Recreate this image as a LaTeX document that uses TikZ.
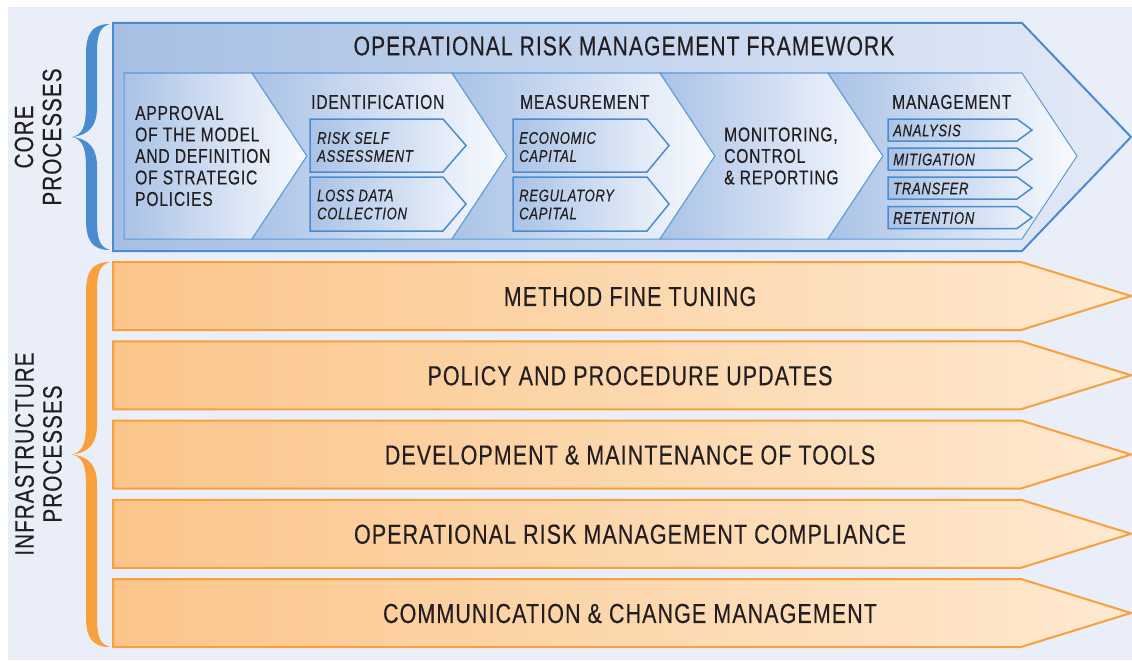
\documentclass[tikz,border=0pt]{standalone}
\usepackage{fontspec}
\setmainfont{Liberation Sans}[FakeStretch=0.78,LetterSpace=4,FakeBold=0.3]
\usepackage{tikz}
\usepackage{xcolor}

\definecolor{bgcol}{HTML}{E9EEF8}
\definecolor{coreline}{HTML}{4A8CCF}
\definecolor{coreL}{HTML}{A6BFE4}
\definecolor{coreR}{HTML}{E3EAF7}
\definecolor{chevline}{HTML}{5E9BD6}
\definecolor{chevL}{HTML}{A9C2E6}
\definecolor{chevR}{HTML}{F8FAFE}
\definecolor{subR}{HTML}{EEF3FB}
\definecolor{infraline}{HTML}{F7A03D}
\definecolor{infraL}{HTML}{FBC58A}
\definecolor{infraR}{HTML}{FEE9D0}
\definecolor{txtcol}{HTML}{231F20}

% curly brace in front of a group: top, bottom, colour
\newcommand{\groupbrace}[3]{%
  \pgfmathsetmacro{\bm}{(#1+#2)/2}
  \fill[#3] (110,#1) .. controls (92,#1) and (86,#1+10) .. (86,#1+30)
    -- (86,\bm-30) .. controls (86,\bm-10) and (82,\bm-2) .. (72,\bm)
    .. controls (82,\bm+2) and (86,\bm+10) .. (86,\bm+30)
    -- (86,#2-30) .. controls (86,#2-10) and (92,#2) .. (110,#2)
    .. controls (99,#2-3) and (97,#2-12) .. (97,#2-30)
    -- (97,\bm+30) .. controls (97,\bm+12) and (90,\bm+2) .. (72,\bm)
    .. controls (90,\bm-2) and (97,\bm-12) .. (97,\bm-30)
    -- (97,#1+30) .. controls (97,#1+12) and (99,#1+3) .. (110,#1) -- cycle;}

\tikzset{
  txt/.style={text=txtcol, inner sep=0pt},
  head/.style={txt, font=\fontsize{20}{21.5}\selectfont, align=left, anchor=west},
  sub/.style={txt, font=\fontsize{16.8}{18}\selectfont\itshape, align=left, anchor=west},
  big/.style={txt, font=\fontsize{27.5}{30}\selectfont},
  side/.style={txt, font=\fontsize{26.5}{28}\selectfont, rotate=90, align=center},
  chev/.style={draw=chevline, line width=1pt, left color=chevL, right color=chevR},
  subbox/.style={draw=coreline, line width=1.5pt, left color=chevL, right color=subR},
  infra/.style={draw=infraline, line width=2pt, left color=infraL, right color=infraR}
}

\begin{document}
\begin{tikzpicture}[x=1pt,y=-1pt]
  \useasboundingbox (0,0) rectangle (1132,661);
  \fill[bgcol] (8,7) rectangle (1132,660);

  % core processes
  \draw[draw=coreline, line width=2pt, left color=coreL, right color=coreR]
    (113,23) -- (1022,23) -- (1131,137) -- (1022,251) -- (113,251) -- cycle;
  \node[big, font=\fontsize{27}{30}\selectfont] (title) at (624,46) {OPERATIONAL RISK MANAGEMENT FRAMEWORK};

  \draw[chev] (124,73) -- (252,73) -- (307,156) -- (252,239) -- (124,239) -- cycle;
  \draw[chev] (252,73) -- (452,73) -- (507,156) -- (452,239) -- (252,239) -- (307,156) -- cycle;
  \draw[chev] (452,73) -- (660,73) -- (715,156) -- (660,239) -- (452,239) -- (507,156) -- cycle;
  \draw[chev] (660,73) -- (828,73) -- (883,156) -- (828,239) -- (660,239) -- (715,156) -- cycle;
  \draw[chev] (828,73) -- (1022,73) -- (1077,156) -- (1022,239) -- (828,239) -- (883,156) -- cycle;

  \node[head] (approval) at (135,156) {APPROVAL\\OF THE MODEL\\AND DEFINITION\\OF STRATEGIC\\POLICIES};
  \node[head] (ident) at (311,102) {IDENTIFICATION};
  \node[head] (measure) at (520,102) {MEASUREMENT};
  \node[head] (monitor) at (724,156) {MONITORING,\\CONTROL\\\& REPORTING};
  \node[head] (manage) at (892,102) {MANAGEMENT};

  % identification and measurement
  \draw[subbox] (310,119) -- (443,119) -- (466,145.5) -- (443,172) -- (310,172) -- cycle;
  \draw[subbox] (310,177) -- (443,177) -- (466,204) -- (443,231) -- (310,231) -- cycle;
  \draw[subbox] (513,119) -- (647,119) -- (669,145.5) -- (647,172) -- (513,172) -- cycle;
  \draw[subbox] (513,177) -- (647,177) -- (669,204) -- (647,231) -- (513,231) -- cycle;
  \node[sub] (rsa) at (317,147) {RISK SELF\\ASSESSMENT};
  \node[sub] (ldc) at (317,204.5) {LOSS DATA\\COLLECTION};
  \node[sub] (ecap) at (519,147) {ECONOMIC\\CAPITAL};
  \node[sub] (rcap) at (519,204.5) {REGULATORY\\CAPITAL};

  % management
  \foreach \y/\name/\txt in {119/analysis/ANALYSIS, 148/mitig/MITIGATION, 177/transf/TRANSFER, 206.5/retent/RETENTION}
  {
    \draw[subbox] (888,\y) -- (1017,\y) -- (1032,\y+11) -- (1017,\y+22) -- (888,\y+22) -- cycle;
    \node[sub] (\name) at (893,\y+11.5) {\txt};
  }

  % infrastructure processes
  \foreach \y/\name/\txt in {262/tune/METHOD FINE TUNING,
      341.25/policy/POLICY AND PROCEDURE UPDATES,
      420.5/tools/DEVELOPMENT \& MAINTENANCE OF TOOLS,
      499.75/comply/OPERATIONAL RISK MANAGEMENT COMPLIANCE,
      579/change/COMMUNICATION \& CHANGE MANAGEMENT}
  {
    \draw[infra] (113,\y) -- (1021,\y) -- (1131,\y+34) -- (1021,\y+68) -- (113,\y+68) -- cycle;
    \node[big] (\name) at (630,\y+34.5) {\txt};
  }

  % braces and group labels
  \groupbrace{24}{250}{coreline}
  \groupbrace{262}{647}{infraline}
  \node[side] (core) at (38,137) {CORE\\PROCESSES};
  \node[side] (infrastr) at (38.5,454) {INFRASTRUCTURE\\PROCESSES};
\end{tikzpicture}
\end{document}
